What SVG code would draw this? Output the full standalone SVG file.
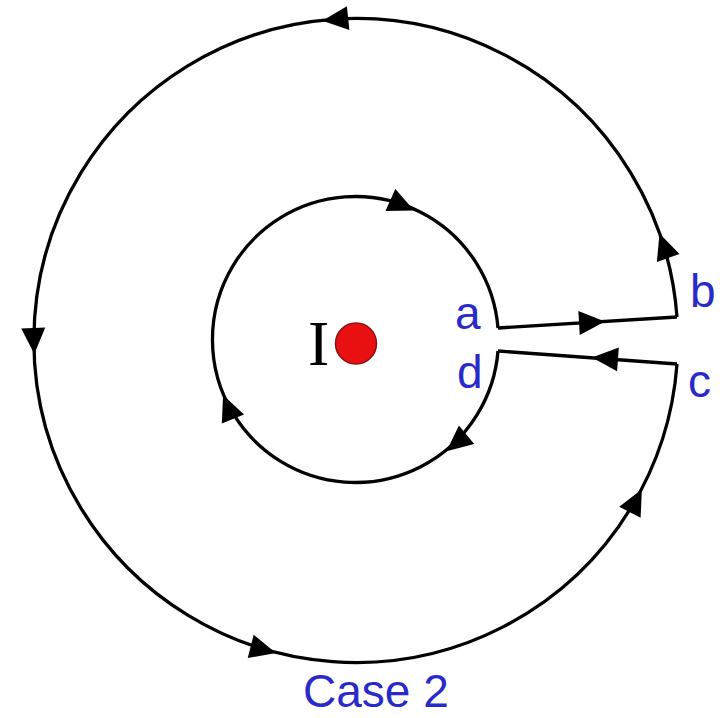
<svg xmlns="http://www.w3.org/2000/svg" width="725" height="718" viewBox="0 0 725 718">
<defs>
<style>
.wire{fill:none;stroke:#000;stroke-width:3.3;stroke-linejoin:miter}
.lbl{font-family:"Liberation Sans",Arial,sans-serif;font-size:46px;fill:#2a2ac8}
</style>
<polygon id="ah" points="0,0 -26,-12 -26,12" fill="#000"/>
</defs>
<rect width="725" height="718" fill="#fff"/>
<g id="connectors">
<path id="outer" class="wire" d="M677,317 A322,322 0 1 0 677,364"/>
<path id="inner" class="wire" d="M498,351 A143,143 0 1 1 498,328"/>
<path id="ab" class="wire" d="M498,328 L677,317"/>
<path id="cd" class="wire" d="M677,364 L498,351"/>
<use href="#ah" transform="translate(322.3,20.8) rotate(174)"/>
<use href="#ah" transform="translate(34.3,353.9) rotate(87.7)"/>
<use href="#ah" transform="translate(275.9,652.9) rotate(14.4)"/>
<use href="#ah" transform="translate(641.9,489.2) rotate(-62.6)"/>
<use href="#ah" transform="translate(659.5,233.5) rotate(-109.5)"/>
<use href="#ah" transform="translate(414.1,210.6) rotate(24.2)"/>
<use href="#ah" transform="translate(446.5,451.3) rotate(140.5)"/>
<use href="#ah" transform="translate(223.1,395) rotate(247.8)"/>
<use href="#ah" transform="translate(605,321.4) rotate(-3.5)"/>
<use href="#ah" transform="translate(592,357.5) rotate(184.2)"/>
</g>
<g id="current">
<circle cx="356" cy="343.5" r="20.5" fill="#e81010" stroke="#8a1010" stroke-width="1.5"/>
<text x="308" y="365" font-family="Liberation Serif,'Times New Roman',serif" font-size="64" fill="#000">I</text>
</g>
<g id="labels">
<text class="lbl" x="455" y="329">a</text>
<text class="lbl" x="690" y="307">b</text>
<text class="lbl" x="688" y="397">c</text>
<text class="lbl" x="457" y="388">d</text>
<text class="lbl" x="303" y="707" font-size="49">Case 2</text>
</g>
</svg>
